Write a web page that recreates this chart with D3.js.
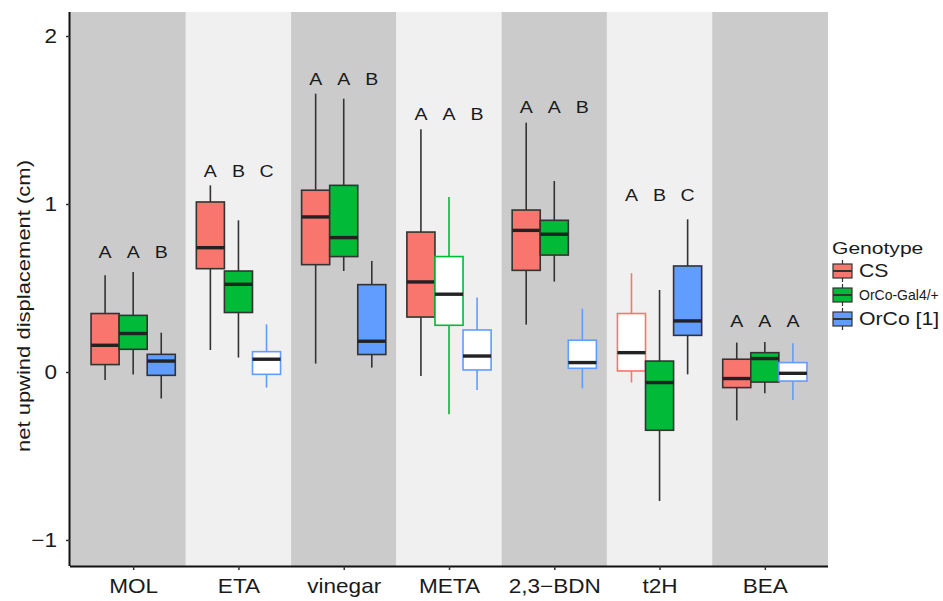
<!DOCTYPE html>
<html>
<head>
<meta charset="utf-8">
<script src="https://cdn.jsdelivr.net/npm/d3@7"></script>
<style>
  body { margin: 0; background: #fff; }
  text { font-family: "Liberation Sans", Arial, sans-serif; fill: #1a1a1a; }
</style>
</head>
<body>
<div class="chart-wrapper"></div>
<script>
const categories = ['MOL', 'ETA', 'vinegar', 'META', '2,3\u2212BDN', 't2H', 'BEA']
const genotypes = ['CS', 'OrCo-Gal4/+', 'OrCo [1]']

// five-number summaries per odour: [whisker low, q1, median, q3, whisker high]
const csStats = [
  [-0.048, 0.044, 0.159, 0.348, 0.576],
  [0.131, 0.615, 0.74, 1.012, 1.111],
  [0.05, 0.639, 0.923, 1.082, 1.657],
  [-0.024, 0.327, 0.536, 0.833, 1.445],
  [0.282, 0.605, 0.843, 0.964, 1.484],
  [-0.063, 0.006, 0.115, 0.348, 0.588],
  [-0.288, -0.093, -0.039, 0.076, 0.175]
]
const gal4Stats = [
  [-0.015, 0.135, 0.229, 0.337, 0.595],
  [0.086, 0.354, 0.522, 0.601, 0.903],
  [0.601, 0.687, 0.8, 1.111, 1.627],
  [-0.252, 0.278, 0.463, 0.687, 1.042],
  [0.538, 0.696, 0.82, 0.903, 1.137],
  [-0.768, -0.347, -0.063, 0.065, 0.488],
  [-0.127, -0.06, 0.08, 0.115, 0.179]
]
const orco1Stats = [
  [-0.158, -0.02, 0.065, 0.105, 0.234],
  [-0.093, -0.014, 0.076, 0.121, 0.284],
  [0.026, 0.104, 0.183, 0.52, 0.661],
  [-0.107, 0.012, 0.095, 0.25, 0.443],
  [-0.097, 0.022, 0.056, 0.189, 0.377],
  [-0.014, 0.218, 0.304, 0.631, 0.909],
  [-0.167, -0.054, -0.008, 0.056, 0.171]
]

// significance letters and the height they sit at (cm)
const csLetters = ['A', 'A', 'A', 'A', 'A', 'A', 'A']
const gal4Letters = ['A', 'B', 'A', 'A', 'A', 'B', 'A']
const orco1Letters = ['B', 'C', 'B', 'B', 'B', 'C', 'A']
const letterY = [0.714, 1.196, 1.742, 1.538, 1.577, 1.054, 0.304]

// boxes drawn open (no fill)
const csOpen = [false, false, false, false, false, true, false]
const gal4Open = [false, false, false, true, false, false, false]
const orco1Open = [false, true, false, true, true, false, true]

const yTicks = [-1, 0, 1, 2]

const colors = ['#F8766D', '#00BA38', '#619CFF']

const width = 943
const height = 601
const margin = {top: 12, right: 115, bottom: 35, left: 70}
const plotW = width - margin.left - margin.right
const plotH = height - margin.top - margin.bottom

// the lettering in the figure is drawn a bit wide
const wide = 1.13

const series = [
  {name: genotypes[0], stats: csStats, letters: csLetters, open: csOpen, color: colors[0]},
  {name: genotypes[1], stats: gal4Stats, letters: gal4Letters, open: gal4Open, color: colors[1]},
  {name: genotypes[2], stats: orco1Stats, letters: orco1Letters, open: orco1Open, color: colors[2]}
]

let svg = d3.select('.chart-wrapper').append('svg')
  .attr('width', width)
  .attr('height', height)

let g = svg.append('g')
  .attr('transform', `translate(${margin.left}, ${margin.top})`)

let x = d3.scalePoint()
  .domain(categories)
  .range([0, plotW])
  .padding(0.6)

const step = x.step()

let dodge = d3.scaleBand()
  .domain(genotypes)
  .range([-step * 0.4, step * 0.4])

let y = d3.scaleLinear()
  .domain([-1.155, 2.143])
  .range([plotH, 0])

// alternating background bands
g.append('g').selectAll('rect')
  .data(categories)
  .enter().append('rect')
  .attr('x', (d, i) => i === 0 ? 0 : x(d) - step / 2)
  .attr('width', (d, i) => {
    let x0 = i === 0 ? 0 : x(d) - step / 2
    let x1 = i === categories.length - 1 ? plotW : x(d) + step / 2
    return x1 - x0
  })
  .attr('y', 0)
  .attr('height', plotH)
  .attr('fill', (d, i) => i % 2 === 0 ? '#cbcbcb' : '#f0f0f0')

// boxes
series.forEach(s => {
  let grp = g.append('g')
  categories.forEach((cat, i) => {
    let [lo, q1, med, q3, hi] = s.stats[i]
    let cx = x(cat) + dodge(s.name) + dodge.bandwidth() / 2
    let bw = dodge.bandwidth()
    let open = s.open[i]
    let line = open ? s.color : '#333333'

    grp.append('line')
      .attr('x1', cx).attr('x2', cx)
      .attr('y1', y(hi)).attr('y2', y(q3))
      .attr('stroke', line).attr('stroke-width', 1.6)
    grp.append('line')
      .attr('x1', cx).attr('x2', cx)
      .attr('y1', y(q1)).attr('y2', y(lo))
      .attr('stroke', line).attr('stroke-width', 1.6)
    grp.append('rect')
      .attr('x', cx - bw / 2)
      .attr('width', bw)
      .attr('y', y(q3))
      .attr('height', y(q1) - y(q3))
      .attr('fill', open ? '#ffffff' : s.color)
      .attr('stroke', line)
      .attr('stroke-width', 1.6)
    grp.append('line')
      .attr('x1', cx - bw / 2).attr('x2', cx + bw / 2)
      .attr('y1', y(med)).attr('y2', y(med))
      .attr('stroke', '#222').attr('stroke-width', 3.4)

    grp.append('text')
      .attr('transform', `translate(${cx}, ${y(letterY[i])}) scale(1.15, 1)`)
      .attr('dy', '0.36em')
      .attr('text-anchor', 'middle')
      .style('font-size', '17px')
      .text(s.letters[i])
  })
})

// axes
let xAxis = g.append('g')
  .attr('transform', `translate(0, ${plotH})`)
  .call(d3.axisBottom(x).tickSize(4).tickPadding(9))
let yAxis = g.append('g')
  .call(d3.axisLeft(y).tickValues(yTicks).tickSize(4)
    .tickFormat(d => d < 0 ? '\u2212' + Math.abs(d) : d))

xAxis.select('.domain').attr('d', `M0,0.5H${plotW}`).attr('stroke', '#111').attr('stroke-width', 2)
yAxis.select('.domain').attr('d', `M-0.5,0V${plotH}`).attr('stroke', '#111').attr('stroke-width', 2)
svg.selectAll('.tick line').attr('stroke', '#333').attr('stroke-width', 1.5)
svg.selectAll('.tick text')
  .style('font-family', '"Liberation Sans", Arial, sans-serif')
  .style('font-size', '20px')
  .attr('fill', '#1a1a1a')
xAxis.selectAll('.tick text').attr('transform', `scale(${wide}, 1)`)
yAxis.selectAll('.tick text')
  .attr('x', -13 / wide)
  .attr('transform', `scale(${wide}, 1)`)

svg.append('text')
  .attr('transform', `translate(24, 306) rotate(-90)`)
  .attr('text-anchor', 'middle')
  .attr('dy', '0.35em')
  .attr('textLength', 292)
  .attr('lengthAdjust', 'spacingAndGlyphs')
  .style('font-size', '18px')
  .text('net upwind displacement (cm)')

// legend
let legend = svg.append('g')
  .attr('transform', `translate(832, 248)`)

legend.append('text')
  .attr('transform', 'scale(1.24, 1)')
  .attr('dy', '0.35em')
  .style('font-size', '17px')
  .text('Genotype')

series.forEach((s, i) => {
  let ky = 23 + i * 24
  let kg = legend.append('g').attr('transform', `translate(0, ${ky})`)
  kg.append('line')
    .attr('x1', 10.5).attr('x2', 10.5)
    .attr('y1', -11).attr('y2', 11)
    .attr('stroke', '#333').attr('stroke-width', 1.2)
  kg.append('rect')
    .attr('x', 1).attr('y', -7)
    .attr('width', 19).attr('height', 14)
    .attr('fill', s.color)
    .attr('stroke', '#333').attr('stroke-width', 1.2)
  kg.append('line')
    .attr('x1', 1).attr('x2', 20)
    .attr('y1', 0).attr('y2', 0)
    .attr('stroke', '#333').attr('stroke-width', 2)
  let t = kg.append('text')
    .attr('dy', '0.35em')
    .text(s.name)
  if (i === 1) {
    t.attr('transform', 'translate(27, 0)')
      .style('font-family', '"Liberation Sans Narrow", "Liberation Sans", Arial, sans-serif')
      .style('font-size', '14px')
  } else {
    t.attr('transform', 'translate(27, 0) scale(1.18, 1)')
      .style('font-size', '18px')
  }
})
</script>
</body>
</html>
